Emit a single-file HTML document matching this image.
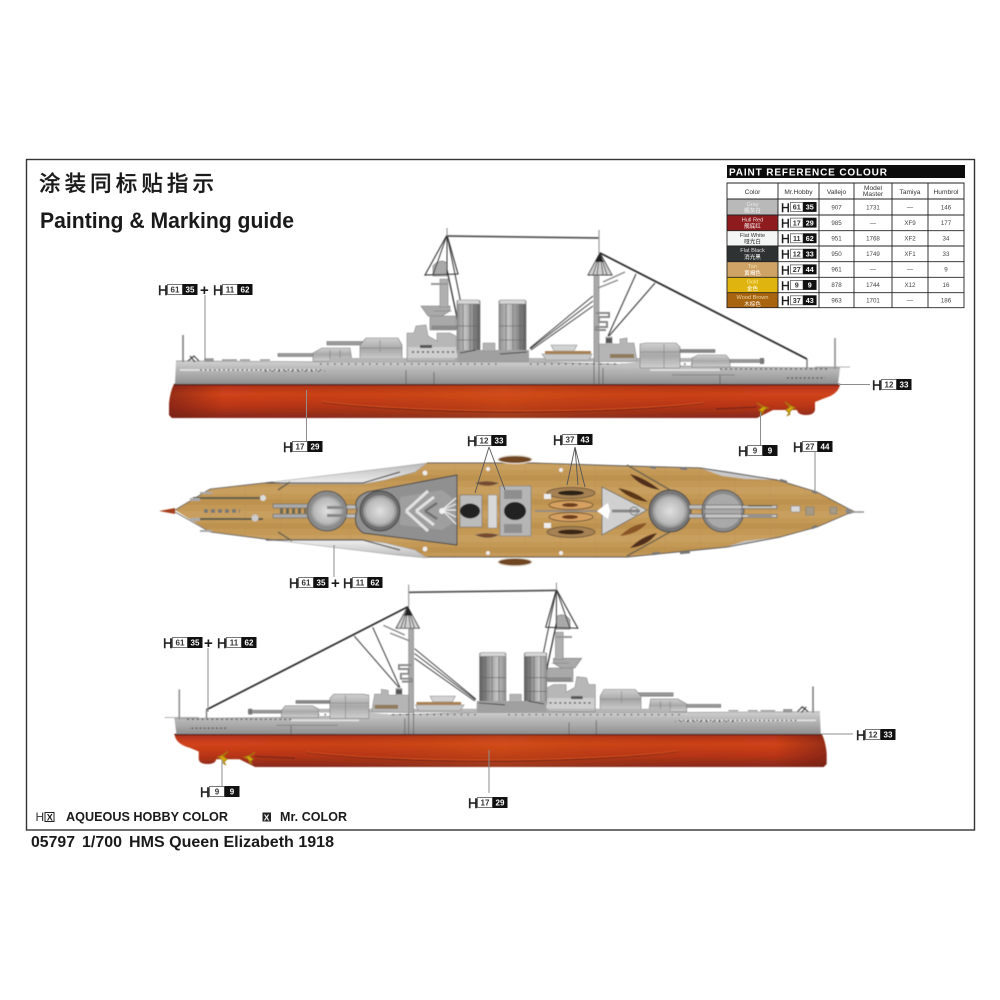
<!DOCTYPE html>
<html><head><meta charset="utf-8"><style>
html,body{margin:0;padding:0;background:#fff;width:1000px;height:1000px;overflow:hidden}
svg{display:block}
text{font-family:"Liberation Sans","Noto Sans CJK SC",sans-serif;fill:#1a1a1a}
.h{font-size:13.5px;stroke:#222;stroke-width:.45}
.n{font-size:8px;font-weight:bold;text-anchor:middle;fill:#333}
.nw{font-size:8px;font-weight:bold;text-anchor:middle;fill:#fff}
.w{fill:#fff;stroke:#777;stroke-width:1}
.b{fill:#111}
.ld{stroke:#8d8d8d;stroke-width:1;fill:none}
.th{font-size:6.6px;text-anchor:middle;fill:#333}
.td{font-size:6.2px;text-anchor:middle;fill:#444}
.c1{font-size:5.6px;text-anchor:middle}
.grid{stroke:#222;stroke-width:.9;fill:none}
</style></head><body>
<svg width="1000" height="1000" viewBox="0 0 1000 1000" xmlns="http://www.w3.org/2000/svg">
<defs>
<filter id="bl" x="-5%" y="-5%" width="110%" height="110%"><feGaussianBlur stdDeviation="0.55"/></filter>
<linearGradient id="red" gradientUnits="userSpaceOnUse" x1="0" y1="384" x2="0" y2="418">
<stop offset="0" stop-color="#7a2112"/><stop offset=".07" stop-color="#b5341a"/><stop offset=".3" stop-color="#d1441a"/><stop offset=".65" stop-color="#b93518"/><stop offset="1" stop-color="#862a1c"/></linearGradient>
<linearGradient id="redx" gradientUnits="userSpaceOnUse" x1="169" y1="0" x2="840" y2="0">
<stop offset="0" stop-color="#6a1c10" stop-opacity=".55"/><stop offset=".08" stop-color="#6a1c10" stop-opacity="0"/><stop offset=".5" stop-color="#d86a1a" stop-opacity=".25"/><stop offset=".9" stop-color="#6a1c10" stop-opacity="0"/></linearGradient>
<linearGradient id="grey" gradientUnits="userSpaceOnUse" x1="0" y1="360" x2="0" y2="384">
<stop offset="0" stop-color="#d4d4d4"/><stop offset=".3" stop-color="#bdbdbd"/><stop offset=".65" stop-color="#a8a8a8"/><stop offset="1" stop-color="#8f8f8f"/></linearGradient>
<linearGradient id="fun" x1="0" y1="0" x2="1" y2="0">
<stop offset="0" stop-color="#8d8d8d"/><stop offset=".35" stop-color="#c4c4c4"/><stop offset=".7" stop-color="#8c8c8c"/><stop offset="1" stop-color="#5d5d5d"/></linearGradient>
<linearGradient id="tur" x1="0" y1="0" x2="0" y2="1">
<stop offset="0" stop-color="#cfcfcf"/><stop offset=".5" stop-color="#a8a8a8"/><stop offset="1" stop-color="#d0d0d0"/></linearGradient>
<radialGradient id="dome" cx=".5" cy=".5" r=".55"><stop offset="0" stop-color="#e0e0e0"/><stop offset=".7" stop-color="#b8b8b8"/><stop offset="1" stop-color="#777"/></radialGradient>
<linearGradient id="wedge" x1="0" y1="0" x2="0" y2="1"><stop offset="0" stop-color="#b9b9b9"/><stop offset="1" stop-color="#f0f0f0"/></linearGradient>
<linearGradient id="wedge2" x1="0" y1="1" x2="0" y2="0"><stop offset="0" stop-color="#b9b9b9"/><stop offset="1" stop-color="#f0f0f0"/></linearGradient>
<pattern id="plank" patternUnits="userSpaceOnUse" width="35" height="24" y="463">
<rect width="35" height="24" fill="#c49957"/>
<rect y="0" width="35" height="7" fill="#c89f5e"/><rect y="12" width="35" height="6" fill="#bd9250"/>
<path d="M0 0V24" stroke="#a9813f" stroke-width=".5" opacity=".6"/></pattern>

<g id="ship">
<!-- hull -->
<path d="M174 384H840C839 392 832 396 825 398L815 402V410Q814 415 806 415Q798 415 797 410H773L757 418H172L169 415V404Q170 392 174 384Z" fill="url(#red)"/>
<path d="M174 384H840C839 392 832 396 825 398L815 402V410Q814 415 806 415Q798 415 797 410H773L757 418H172L169 415V404Q170 392 174 384Z" fill="url(#redx)"/>
<path d="M174 384.5H840" stroke="#4b1a12" stroke-width="1.4"/>
<path d="M322 402Q380 410 500 412Q630 412 704 403" fill="none" stroke="#6d2214" stroke-width="1.2"/>
<path d="M322 401.5Q380 409 500 411Q630 411 704 402.5" fill="none" stroke="#d9501e" stroke-width="1"/>
<path d="M716 409L757 407" stroke="#6d2214" stroke-width="1"/>
<!-- props -->
<path d="M757 403L763 407L759 410L763 413L760 415L765 409L768 408L762 406Z" fill="#d9a90f" stroke="#a37c08" stroke-width="1"/>
<path d="M785 402L790 407L786 410L790 414L787 416L792 409L795 408L789 405Z" fill="#d9a90f" stroke="#a37c08" stroke-width="1"/>
<!-- grey hull -->
<path d="M176 361L350 362L530 362L720 367L840 368L838 384H175Z" fill="url(#grey)"/>
<path d="M176 361L350 362L530 362L720 367L840 368" fill="none" stroke="#8b8b8b" stroke-width=".7"/>
<path d="M180 370H322M650 370H720" stroke="#e2e2e2" stroke-width="1.8"/>
<path d="M320 364H500M530 364H720" stroke="#4a4a4a" stroke-width="1.3" stroke-dasharray="1.6 5.4"/>
<path d="M200 370H322" stroke="#444" stroke-width="1.2" stroke-dasharray="2 2.6"/>
<path d="M265 371H325" stroke="#444" stroke-width="1.3" stroke-dasharray="1.6 5"/>
<path d="M720 369H830" stroke="#555" stroke-width="1.3" stroke-dasharray="2 3"/>
<path d="M787 378H825" stroke="#444" stroke-width="1.3" stroke-dasharray="1.8 2.4"/>
<path d="M406 370V384M434 372V384M594 362V384M599 362V384M603 368V384M720 375V384" stroke="#666" stroke-width=".9"/>
<path d="M672 375H735" stroke="#777" stroke-width=".8"/>
<path d="M205 361h8v-2h-8zM222 360h15M240 360h10M260 360h10" stroke="#888" stroke-width="1.2" fill="#aaa"/>
<path d="M188 361l6-5 5 5M190 356l5 6" stroke="#444" stroke-width="1.2" fill="none"/>
<!-- staffs -->
<path d="M183 335V362" stroke="#7d7d7d" stroke-width="1.6"/>
<path d="M835 338V369" stroke="#8d8d8d" stroke-width="1.6"/>
<path d="M815 367H850" stroke="#999" stroke-width=".8"/>
<path d="M807 359V368" stroke="#777" stroke-width="1.4"/>
<!-- turret A -->
<path d="M278 353.5H314V356.5H278Z" fill="#9a9a9a" stroke="#666" stroke-width=".6"/>
<path d="M313 361V353L322 348H350L352 361Z" fill="url(#tur)" stroke="#777" stroke-width=".6"/>
<path d="M330 350V361M340 350V361" stroke="#777" stroke-width=".6"/>
<!-- turret B -->
<path d="M327 341.5H364V345H327Z" fill="#9a9a9a" stroke="#666" stroke-width=".6"/>
<path d="M360 360V345L366 338H398L402 345V360Z" fill="url(#tur)" stroke="#777" stroke-width=".6"/>
<path d="M380 340V352M360 348H402" stroke="#888" stroke-width=".7"/>
<path d="M330 358H700V362H330Z" fill="#b5b5b5"/>
<!-- bridge -->
<path d="M407 361V333H414L416 326L426 325L428 336L437 341V333H450L456 336V361Z" fill="#b7b7b7" stroke="#8a8a8a" stroke-width=".6"/>
<path d="M408 347H456V358H408Z" fill="#cfcfcf"/>
<path d="M412 352H456" stroke="#444" stroke-width="1.4" stroke-dasharray="2 3"/>
<path d="M420 345h12v3h-12z" fill="#555"/>
<path d="M421 306H450V311L442 316H428Z M430 316H456V330H430Z" fill="#a9a9a9" stroke="#777" stroke-width=".6"/>
<path d="M432 326H457V329H432Z M434 311H452" fill="#8d8d8d" stroke="#777" stroke-width=".5"/>
<path d="M440 279H448V307H440Z" fill="#b0b0b0" stroke="#808080" stroke-width=".6"/>
<path d="M431 283H448V285H431Z" fill="#9a9a9a"/>
<path d="M433 276V266Q440 258 447 263V276Z" fill="#a9a9a9" stroke="#777" stroke-width=".6"/>
<!-- tripod -->
<path d="M447 235L425 275L458 274Z" fill="none" stroke="#333" stroke-width="1.1"/>
<path d="M447 235L433 275M447 235V275M447 235L466 328" stroke="#333" stroke-width="1" fill="none"/>
<path d="M447 270L458 322" stroke="#333" stroke-width="1.3"/>
<path d="M447 236L599 238" stroke="#555" stroke-width="1.8"/>
<path d="M447 228V236" stroke="#888" stroke-width="1"/>
<!-- funnels -->
<rect x="457" y="301" width="23" height="52" fill="url(#fun)" stroke="#6d6d6d" stroke-width=".6"/>
<rect x="499" y="301" width="27" height="52" fill="url(#fun)" stroke="#6d6d6d" stroke-width=".6"/>
<path d="M458 300H479L480 304H457ZM500 300H525L526 304H499Z" fill="#d5d5d5" stroke="#777" stroke-width=".5"/>
<path d="M457 326H480M457 340H480M499 326H526M499 340H526M463 304V352M470 304V352M474 304V352M506 304V352M513 304V352M520 304V352" stroke="#5d5d5d" stroke-width=".6"/>
<rect x="457" y="350" width="72" height="12" fill="#a0a0a0"/>
<path d="M483 343h12v8h-12z" fill="#b3b3b3" stroke="#888" stroke-width=".5"/>
<path d="M460 353L476 350M500 354L527 352" stroke="#444" stroke-width="1"/>
<!-- boats -->
<path d="M542 354H592L589 360H546Z" fill="#c6c6c6" stroke="#8b8b8b" stroke-width=".6"/>
<path d="M551 345H577L574 351H554Z" fill="#d2d2d2" stroke="#8b8b8b" stroke-width=".6"/>
<path d="M545 351H591V354H545Z" fill="#a88152"/>
<!-- aft structure -->
<path d="M595 362V344H606V337H612V344H620V339L627 338V343H634L637 361Z" fill="#b5b5b5" stroke="#8a8a8a" stroke-width=".6"/>
<path d="M610 354H634V358H610Z" fill="#8f7a5c"/>
<path d="M618 364L648 361V368H618Z" fill="#c0c0c0"/>
<!-- turret X -->
<path d="M640 368V344L646 343H676L680 347V368Z" fill="url(#tur)" stroke="#777" stroke-width=".6"/>
<path d="M664 344V368M640 352H680" stroke="#888" stroke-width=".7"/>
<path d="M680 349.5H715V352.5H680Z" fill="#888" stroke="#666" stroke-width=".5"/>
<!-- turret Y -->
<path d="M692 367V358L698 355H726L730 360V367Z" fill="url(#tur)" stroke="#777" stroke-width=".6"/>
<path d="M730 359.5H764V362.5H730Z" fill="#999" stroke="#666" stroke-width=".5"/>
<path d="M760 358H764V364H760Z" fill="#777"/>
<!-- aft mast -->
<path d="M594 276H599V362H594Z" fill="#a9a9a9" stroke="#7d7d7d" stroke-width=".6"/>
<path d="M599 230V254" stroke="#999" stroke-width="1.2"/>
<path d="M596 313H609V317H599V322H607V327H596V330H606" fill="none" stroke="#8a8a8a" stroke-width="2"/>
<path d="M600 253L588 275H612Z" fill="#d0d0d0" stroke="#333" stroke-width=".9"/>
<path d="M600 253L593 275M600 253L597 275M600 253L603 275M600 253L607 275" stroke="#333" stroke-width=".8"/>
<path d="M599 254L595 262H604Z" fill="#222"/>
<path d="M600 253L807 359" stroke="#2c2c2c" stroke-width="1.8"/>
<path d="M636 274L608 336M655 283L609 336" stroke="#333" stroke-width="1"/>
<path d="M593 296L530 348M593 301L530 349M593 306L531 350" stroke="#444" stroke-width="1"/>
<path d="M603 282L625 272M598 288L618 280" stroke="#888" stroke-width="1.4"/>
<path d="M606 338h6v5h-6z" fill="#555"/>
</g>
</defs>

<!-- frame -->
<rect x="26.5" y="159.5" width="948" height="670.5" fill="#fff" stroke="#333" stroke-width="1.4"/>

<!-- titles -->
<text x="39" y="191" font-size="21.5" font-weight="500" textLength="175" lengthAdjust="spacing" style='font-family:"Noto Sans CJK SC",sans-serif;stroke:#1a1a1a;stroke-width:.3'>涂装同标贴指示</text>
<text x="40" y="228" font-size="22" font-weight="bold" textLength="254" lengthAdjust="spacingAndGlyphs">Painting &amp; Marking guide</text>

<!-- ships -->
<g filter="url(#bl)">
<use href="#ship"/>
<use href="#ship" transform="matrix(-0.972 0 0 0.97 990.9 361.5)"/>

<!-- deck -->
<g>
<path d="M175 510L210 489L273 482L396 467L427 463H533L627 466L700 468L777 480L817 492L847 508L855 512L847 514L817 527L780 537L727 547L627 557H427L396 555L273 540L210 532Z" fill="url(#plank)"/>
<path d="M273 482L396 467L427 463L415 472L385 480L363 484H280Z" fill="url(#wedge)" stroke="#999" stroke-width=".5"/>
<path d="M273 540L396 555L427 558L415 550L385 543L363 540H280Z" fill="url(#wedge2)" stroke="#999" stroke-width=".5"/>
<path d="M700 468L727 471L777 480L745 479L722 476Z" fill="#c9c9c9"/>
<path d="M727 547L780 537L745 541L722 548Z" fill="#c9c9c9"/>
<path d="M266 483H363L400 472M266 540H363L400 550" fill="none" stroke="#555" stroke-width="1.2"/>
<path d="M427 463H533L627 466L700 468L777 480L817 492L847 508L855 512L847 514L817 527L780 537L727 547L627 557H427" fill="none" stroke="#555" stroke-width=".9"/>
<path d="M175 510L210 489L273 482M175 512L210 532L273 540" fill="none" stroke="#666" stroke-width=".9"/>
<!-- tips -->
<path d="M159 511L175 508V514Z" fill="#a5401c"/>
<path d="M850 512H864" stroke="#999" stroke-width="1.6"/>
<circle cx="848" cy="511" r="2.5" fill="#888"/>
<!-- stern rails -->
<path d="M193 498H263M193 519H263" stroke="#5b5b4c" stroke-width="2"/>
<path d="M204 511H240" stroke="#777" stroke-width="3.5" stroke-dasharray="4 3"/>
<circle cx="263" cy="498" r="3" fill="#ddd"/><circle cx="255" cy="518" r="3.5" fill="#ccc"/>
<path d="M190 498h10v3h-10zM190 518h10v3h-10zM200 492h12v2h-12zM200 530h12v2h-12z" fill="#aaa"/>
<!-- barrels A -->
<path d="M273 504H312V508H273ZM273 514H312V518H273Z" fill="#aaa" stroke="#555" stroke-width=".5"/>
<path d="M280 511H306" stroke="#665" stroke-width="5" stroke-dasharray="3 3"/>
<path d="M278 490L290 482M278 532L292 541" stroke="#6a6250" stroke-width="1.5"/>
<path d="M340 505H362V509H340ZM340 514H362V518H340Z" fill="#bbb" stroke="#555" stroke-width=".5"/>
<!-- superstructure wedge -->
<path d="M457 475V545L363 533Q352 525 357 510Q352 498 367 492Z" fill="#909090" stroke="#444" stroke-width="1"/>
<path d="M400 497L442 490L455 500V522L442 530L400 525Z" fill="#9f9f9f"/>
<path d="M406 511L428 491M406 511L428 531M416 511L434 497M416 511L434 525" stroke="#e2e2e2" stroke-width="3" fill="none"/>
<path d="M425 511L437 503M425 511L437 519" stroke="#6f6f6f" stroke-width="2.5" fill="none"/>
<path d="M442 510L456 498M442 510L456 504M442 510H456M442 510L456 517M442 510L456 524" stroke="#eee" stroke-width="1.2"/>
<circle cx="442" cy="511" r="3" fill="#f2f2f2"/>
<!-- domes -->
<circle cx="327" cy="511" r="20" fill="#8a8a8a" stroke="#555"/>
<ellipse cx="327" cy="511" rx="17" ry="16" fill="url(#dome)"/>
<path d="M327 506H347V509H327ZM327 514H347V517H327Z" fill="#888"/>
<circle cx="380" cy="511" r="20" fill="#6e6e6e" stroke="#444"/>
<ellipse cx="380" cy="511" rx="17" ry="16" fill="url(#dome)"/>
<!-- funnels and centre -->
<path d="M460 495H482V527H460Z" fill="#bcbcbc" stroke="#666" stroke-width=".5"/>
<ellipse cx="470" cy="511" rx="10" ry="7.5" fill="#222"/>
<rect x="488" y="495" width="9" height="33" fill="#d8d8d8" stroke="#888" stroke-width=".5"/>
<path d="M500 486H531V536H500Z" fill="#b5b5b5" stroke="#777" stroke-width=".6"/>
<ellipse cx="515" cy="511" rx="11" ry="9" fill="#222"/>
<path d="M504 490h18v9h-18zM504 524h18v9h-18z" fill="#8e8e8e"/>
<!-- davit boats -->
<path d="M476 483q10-3 22 0q-10 5-22 0zM476 535q10-3 22 0q-10 5-22 0z" fill="#7a4a2a" stroke="#555" stroke-width=".6"/>
<ellipse cx="571" cy="493" rx="24" ry="5.5" fill="#a58152" stroke="#5c4a33" stroke-width=".8"/>
<ellipse cx="571" cy="493" rx="13" ry="2.5" fill="#2c2118"/>
<ellipse cx="571" cy="505" rx="22" ry="4.5" fill="#d6a060" stroke="#6a5035"/>
<ellipse cx="570" cy="505" rx="8" ry="2" fill="#6d3c1f"/>
<ellipse cx="571" cy="517" rx="22" ry="4.5" fill="#d6a060" stroke="#6a5035"/>
<ellipse cx="570" cy="517" rx="8" ry="2" fill="#6d3c1f"/>
<ellipse cx="571" cy="532" rx="24" ry="5.5" fill="#a58152" stroke="#5c4a33" stroke-width=".8"/>
<ellipse cx="571" cy="532" rx="13" ry="2.5" fill="#3b2817"/>
<path d="M535 511H600" stroke="#888" stroke-width="1.4"/>
<rect x="544" y="494" width="7" height="5" fill="#eee"/><rect x="544" y="523" width="7" height="5" fill="#eee"/>
<!-- triangle -->
<path d="M602 487L647 510L602 535Z" fill="#d0d0d0" stroke="#666" stroke-width=".8"/>
<path d="M597 511L608 503L610 511L608 519Z" fill="#fff"/>
<path d="M612 511H640" stroke="#888" stroke-width="3"/>
<circle cx="634" cy="511" r="4" fill="none" stroke="#777"/>
<!-- diagonals -->
<path d="M627 465L670 490M627 556L670 532" stroke="#6a6250" stroke-width="1.4"/>
<path d="M630 474Q645 478 660 490Q640 487 630 474Z" fill="#4f2f1b"/>
<path d="M618 488Q635 491 648 502Q630 500 618 488Z" fill="#5a3518"/>
<path d="M620 536Q632 524 647 523Q638 534 620 536Z" fill="#8a5527"/>
<path d="M630 548Q642 536 657 533Q648 546 630 548Z" fill="#4f2f1b"/>
<!-- turrets X Y -->
<circle cx="670" cy="511" r="21" fill="#777" stroke="#444"/>
<ellipse cx="670" cy="511" rx="18" ry="17" fill="url(#dome)"/>
<path d="M689 505H742V509H689ZM689 514H742V518H689Z" fill="#bbb" stroke="#555" stroke-width=".5"/>
<circle cx="723" cy="511" r="21" fill="#8a8a8a" stroke="#555"/>
<ellipse cx="723" cy="511" rx="18" ry="17" fill="#a9a9a9"/>
<path d="M705 505H742V509H705ZM705 514H742V518H705Z" fill="#c5c5c5" stroke="#444" stroke-width=".6"/>
<path d="M742 505.5H777V508.5H742ZM742 514.5H777V517.5H742Z" fill="#c9c9c9" stroke="#444" stroke-width=".6"/>
<path d="M748 506L772 506M748 516L772 516" stroke="#5b5b4c" stroke-width="1"/>
<!-- small deck fittings -->
<rect x="791" y="506" width="9" height="6" fill="#d8d8d8" stroke="#777" stroke-width=".5"/>
<rect x="806" y="507" width="8" height="8" fill="#a59a85" stroke="#777" stroke-width=".5"/>
<rect x="830" y="507" width="7" height="7" fill="#a59a85" stroke="#777" stroke-width=".5"/>
<path d="M680 468l7 1M650 467l6 1M780 480l7 2M812 491l5 2" stroke="#777" stroke-width="2.4"/>
<path d="M652 554l8-1M680 553l10-1M812 528l5-2" stroke="#777" stroke-width="2.4"/>
<circle cx="425" cy="473" r="2.4" fill="#eee"/><circle cx="425" cy="549" r="2.4" fill="#eee"/>
<circle cx="488" cy="469" r="2" fill="#eee"/><circle cx="488" cy="553" r="2" fill="#eee"/>
<circle cx="561" cy="470" r="2" fill="#eee"/><circle cx="561" cy="553" r="2" fill="#eee"/>
<!-- sponsons -->
<ellipse cx="515" cy="459.5" rx="17" ry="4" fill="#6f4524" stroke="#e8e0d0" stroke-width="1.2"/>
<ellipse cx="515" cy="562" rx="17" ry="4" fill="#6f4524" stroke="#e8e0d0" stroke-width="1.2"/>
</g>
</g>

<!-- leaders -->
<path class="ld" d="M205 295V360M306.5 390V441M760.5 412V445M838 384.5H870"/>
<path class="ld" d="M815 452V491M334 545V577M208 648V712M489 750V793M222 760V787M822 734H853"/>
<path d="M489 447L475 493M489 447L505 490M575 447L567 485M575 447L578 485M575 447L585 487" stroke="#555" stroke-width=".9" fill="none"/>

<!-- labels -->
<g transform="translate(158,284)"><text class="h" y="11">H</text><rect class="w" x="9.5" y=".5" width="15" height="10"/><text class="n" x="17" y="8.5">61</text><rect class="b" x="24.5" width="15" height="11"/><text class="nw" x="32" y="8.5">35</text></g>
<text x="200" y="295" font-size="15" font-weight="bold">+</text>
<g transform="translate(213,284)"><text class="h" y="11">H</text><rect class="w" x="9.5" y=".5" width="15" height="10"/><text class="n" x="17" y="8.5">11</text><rect class="b" x="24.5" width="15" height="11"/><text class="nw" x="32" y="8.5">62</text></g>
<g transform="translate(283,441)"><text class="h" y="11">H</text><rect class="w" x="9.5" y=".5" width="15" height="10"/><text class="n" x="17" y="8.5">17</text><rect class="b" x="24.5" width="15" height="11"/><text class="nw" x="32" y="8.5">29</text></g>
<g transform="translate(872,379)"><text class="h" y="11">H</text><rect class="w" x="9.5" y=".5" width="15" height="10"/><text class="n" x="17" y="8.5">12</text><rect class="b" x="24.5" width="15" height="11"/><text class="nw" x="32" y="8.5">33</text></g>
<g transform="translate(738,445)"><text class="h" y="11">H</text><rect class="w" x="9.5" y=".5" width="15" height="10"/><text class="n" x="17" y="8.5">9</text><rect class="b" x="24.5" width="15" height="11"/><text class="nw" x="32" y="8.5">9</text></g>
<g transform="translate(793,441)"><text class="h" y="11">H</text><rect class="w" x="9.5" y=".5" width="15" height="10"/><text class="n" x="17" y="8.5">27</text><rect class="b" x="24.5" width="15" height="11"/><text class="nw" x="32" y="8.5">44</text></g>
<g transform="translate(467,435)"><text class="h" y="11">H</text><rect class="w" x="9.5" y=".5" width="15" height="10"/><text class="n" x="17" y="8.5">12</text><rect class="b" x="24.5" width="15" height="11"/><text class="nw" x="32" y="8.5">33</text></g>
<g transform="translate(553,434)"><text class="h" y="11">H</text><rect class="w" x="9.5" y=".5" width="15" height="10"/><text class="n" x="17" y="8.5">37</text><rect class="b" x="24.5" width="15" height="11"/><text class="nw" x="32" y="8.5">43</text></g>
<g transform="translate(289,577)"><text class="h" y="11">H</text><rect class="w" x="9.5" y=".5" width="15" height="10"/><text class="n" x="17" y="8.5">61</text><rect class="b" x="24.5" width="15" height="11"/><text class="nw" x="32" y="8.5">35</text></g>
<text x="331" y="588" font-size="15" font-weight="bold">+</text>
<g transform="translate(343,577)"><text class="h" y="11">H</text><rect class="w" x="9.5" y=".5" width="15" height="10"/><text class="n" x="17" y="8.5">11</text><rect class="b" x="24.5" width="15" height="11"/><text class="nw" x="32" y="8.5">62</text></g>
<g transform="translate(163,637)"><text class="h" y="11">H</text><rect class="w" x="9.5" y=".5" width="15" height="10"/><text class="n" x="17" y="8.5">61</text><rect class="b" x="24.5" width="15" height="11"/><text class="nw" x="32" y="8.5">35</text></g>
<text x="204" y="648" font-size="15" font-weight="bold">+</text>
<g transform="translate(217,637)"><text class="h" y="11">H</text><rect class="w" x="9.5" y=".5" width="15" height="10"/><text class="n" x="17" y="8.5">11</text><rect class="b" x="24.5" width="15" height="11"/><text class="nw" x="32" y="8.5">62</text></g>
<g transform="translate(200,786)"><text class="h" y="11">H</text><rect class="w" x="9.5" y=".5" width="15" height="10"/><text class="n" x="17" y="8.5">9</text><rect class="b" x="24.5" width="15" height="11"/><text class="nw" x="32" y="8.5">9</text></g>
<g transform="translate(468,797)"><text class="h" y="11">H</text><rect class="w" x="9.5" y=".5" width="15" height="10"/><text class="n" x="17" y="8.5">17</text><rect class="b" x="24.5" width="15" height="11"/><text class="nw" x="32" y="8.5">29</text></g>
<g transform="translate(856,729)"><text class="h" y="11">H</text><rect class="w" x="9.5" y=".5" width="15" height="10"/><text class="n" x="17" y="8.5">12</text><rect class="b" x="24.5" width="15" height="11"/><text class="nw" x="32" y="8.5">33</text></g>

<!-- paint table -->
<rect x="727" y="165" width="238" height="13" fill="#0c0c0c"/>
<text x="729" y="175.5" font-size="10" font-weight="bold" textLength="158" lengthAdjust="spacing" style="fill:#fff">PAINT  REFERENCE COLOUR</text>
<rect x="727" y="199" width="51" height="16" fill="#b9b9b9"/>
<rect x="727" y="215" width="51" height="15.7" fill="#8e1c1e"/>
<rect x="727" y="230.7" width="51" height="15.3" fill="#f4f6f6"/>
<rect x="727" y="246" width="51" height="15.7" fill="#2f3233"/>
<rect x="727" y="261.7" width="51" height="15.6" fill="#cfa366"/>
<rect x="727" y="277.3" width="51" height="15.4" fill="#dfb40e"/>
<rect x="727" y="292.7" width="51" height="15" fill="#a8640e"/>
<path class="grid" d="M727 183H964V307.7H727ZM778 183V307.7M819 183V307.7M854 183V307.7M892 183V307.7M928 183V307.7M727 199H964M727 215H964M727 230.7H964M727 246H964M727 261.7H964M727 277.3H964M727 292.7H964"/>
<text class="th" x="752.5" y="194">Color</text><text class="th" x="798.5" y="194">Mr.Hobby</text><text class="th" x="836.5" y="194">Vallejo</text>
<text class="th" x="873" y="190">Model</text><text class="th" x="873" y="196">Master</text><text class="th" x="910" y="194">Tamiya</text><text class="th" x="946" y="194">Humbrol</text>

<text class="c1" x="752.5" y="206" style="fill:#e6e6e6">Gray</text><text class="c1" x="752.5" y="212.5" style="fill:#f2f2f2">舰灰白</text>
<text class="c1" x="752.5" y="221.5" style="fill:#f2d8d8">Hull Red</text><text class="c1" x="752.5" y="228" style="fill:#fff">舰底红</text>
<text class="c1" x="752.5" y="237" style="fill:#333">Flat White</text><text class="c1" x="752.5" y="243.5" style="fill:#222">哑光白</text>
<text class="c1" x="752.5" y="252" style="fill:#ddd">Flat Black</text><text class="c1" x="752.5" y="259" style="fill:#fff">消光黑</text>
<text class="c1" x="752.5" y="268" style="fill:#f3dcb4">Tan</text><text class="c1" x="752.5" y="275" style="fill:#fff">黄褐色</text>
<text class="c1" x="752.5" y="283.5" style="fill:#f7e8a0">Gold</text><text class="c1" x="752.5" y="290.5" style="fill:#fff">金色</text>
<text class="c1" x="752.5" y="299" style="fill:#f0d8a8">Wood Brown</text><text class="c1" x="752.5" y="306" style="fill:#fff">木棕色</text>

<g transform="translate(781,202) scale(.9)"><text class="h" y="11">H</text><rect class="w" x="10.5" y=".5" width="14" height="10"/><text class="n" x="17.5" y="8.5">61</text><rect class="b" x="24.5" width="15" height="11"/><text class="nw" x="32" y="8.5">35</text></g>
<g transform="translate(781,217.7) scale(.9)"><text class="h" y="11">H</text><rect class="w" x="10.5" y=".5" width="14" height="10"/><text class="n" x="17.5" y="8.5">17</text><rect class="b" x="24.5" width="15" height="11"/><text class="nw" x="32" y="8.5">29</text></g>
<g transform="translate(781,233.3) scale(.9)"><text class="h" y="11">H</text><rect class="w" x="10.5" y=".5" width="14" height="10"/><text class="n" x="17.5" y="8.5">11</text><rect class="b" x="24.5" width="15" height="11"/><text class="nw" x="32" y="8.5">62</text></g>
<g transform="translate(781,248.8) scale(.9)"><text class="h" y="11">H</text><rect class="w" x="10.5" y=".5" width="14" height="10"/><text class="n" x="17.5" y="8.5">12</text><rect class="b" x="24.5" width="15" height="11"/><text class="nw" x="32" y="8.5">33</text></g>
<g transform="translate(781,264.4) scale(.9)"><text class="h" y="11">H</text><rect class="w" x="10.5" y=".5" width="14" height="10"/><text class="n" x="17.5" y="8.5">27</text><rect class="b" x="24.5" width="15" height="11"/><text class="nw" x="32" y="8.5">44</text></g>
<g transform="translate(781,280) scale(.9)"><text class="h" y="11">H</text><rect class="w" x="10.5" y=".5" width="14" height="10"/><text class="n" x="17.5" y="8.5">9</text><rect class="b" x="24.5" width="15" height="11"/><text class="nw" x="32" y="8.5">9</text></g>
<g transform="translate(781,295.3) scale(.9)"><text class="h" y="11">H</text><rect class="w" x="10.5" y=".5" width="14" height="10"/><text class="n" x="17.5" y="8.5">37</text><rect class="b" x="24.5" width="15" height="11"/><text class="nw" x="32" y="8.5">43</text></g>

<text class="td" x="836.5" y="209.5">907</text><text class="td" x="873" y="209.5">1731</text><text class="td" x="910" y="209.5">—</text><text class="td" x="946" y="209.5">146</text>
<text class="td" x="836.5" y="225">985</text><text class="td" x="873" y="225">—</text><text class="td" x="910" y="225">XF9</text><text class="td" x="946" y="225">177</text>
<text class="td" x="836.5" y="240.5">951</text><text class="td" x="873" y="240.5">1768</text><text class="td" x="910" y="240.5">XF2</text><text class="td" x="946" y="240.5">34</text>
<text class="td" x="836.5" y="256">950</text><text class="td" x="873" y="256">1749</text><text class="td" x="910" y="256">XF1</text><text class="td" x="946" y="256">33</text>
<text class="td" x="836.5" y="271.5">961</text><text class="td" x="873" y="271.5">—</text><text class="td" x="910" y="271.5">—</text><text class="td" x="946" y="271.5">9</text>
<text class="td" x="836.5" y="287">878</text><text class="td" x="873" y="287">1744</text><text class="td" x="910" y="287">X12</text><text class="td" x="946" y="287">16</text>
<text class="td" x="836.5" y="302.5">963</text><text class="td" x="873" y="302.5">1701</text><text class="td" x="910" y="302.5">—</text><text class="td" x="946" y="302.5">186</text>

<!-- footer legend -->
<text x="35.5" y="821" font-size="12" style="fill:#333">H</text>
<rect x="45" y="812.5" width="9" height="9" fill="#fff" stroke="#222" stroke-width="1"/>
<text x="46.7" y="820.3" font-size="9" font-weight="bold">X</text>
<text x="66" y="821" font-size="12.5" font-weight="bold" textLength="162" lengthAdjust="spacingAndGlyphs">AQUEOUS HOBBY COLOR</text>
<rect x="262.5" y="812.5" width="8.5" height="9" fill="#222"/>
<text x="263.7" y="820.3" font-size="8.5" font-weight="bold" style="fill:#fff">X</text>
<text x="280" y="821" font-size="12.5" font-weight="bold" textLength="67" lengthAdjust="spacing">Mr. COLOR</text>

<text x="31" y="847" font-size="15.5" font-weight="bold" textLength="44" lengthAdjust="spacingAndGlyphs">05797</text>
<text x="82" y="847" font-size="15.5" font-weight="bold" textLength="40" lengthAdjust="spacingAndGlyphs">1/700</text>
<text x="129" y="847" font-size="15.5" font-weight="bold" textLength="205" lengthAdjust="spacingAndGlyphs">HMS Queen Elizabeth 1918</text>
</svg>
</body></html>
